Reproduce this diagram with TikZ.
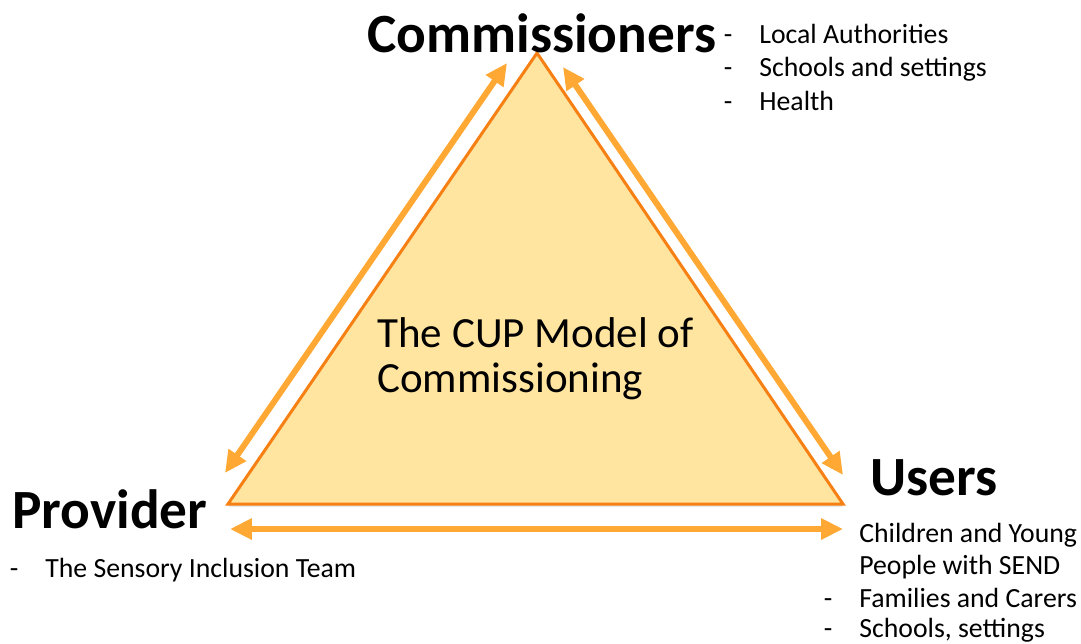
\documentclass[tikz,border=0pt]{standalone}
\usepackage{fontspec}
\setmainfont{Carlito}
\usetikzlibrary{arrows.meta,shadows}
\definecolor{cupfill}{RGB}{255,229,160}
\definecolor{cupedge}{RGB}{247,128,20}
\definecolor{cuparrow}{RGB}{255,168,52}
\tikzset{
  role/.style={inner sep=0pt, anchor=base west, font=\fontsize{31.5}{38}\selectfont\bfseries},
  model/.style={inner sep=0pt, anchor=base west, align=left, font=\fontsize{24.5}{25.5}\selectfont},
  item/.style={inner sep=0pt, anchor=base west, font=\fontsize{15.8}{19}\selectfont},
  bullet/.style={inner sep=0pt, anchor=base, font=\fontsize{15.8}{19}\selectfont},
  link/.style={draw=cuparrow, line width=3.4pt, <->},
  >={Triangle[length=12.5pt,width=11.5pt]}
}
\begin{document}
\begin{tikzpicture}[x=0.02cm,y=-0.02cm]
			\useasboundingbox (0,0) rectangle (1081,643);
			% triangle
			\coordinate (top) at (537,53);
			\coordinate (left) at (228,504);
			\coordinate (right) at (843,504);
			\filldraw[fill=cupfill, draw=cupedge, line width=1.7pt,
				drop shadow={opacity=0.25, shadow xshift=0pt, shadow yshift=-1.5pt}]
				(top) -- (left) -- (right) -- cycle;
			\node[model] (cup) at (377,392) {The CUP Model of\\Commissioning};

			% arrow ends
			\coordinate (la) at (507,63);
			\coordinate (lb) at (225,473);
			\coordinate (ra) at (563,67);
			\coordinate (rb) at (843,475);
			\coordinate (ba) at (230,529);
			\coordinate (bb) at (843,529);
			\draw
			(la) edge[link] (lb)
			(ra) edge[link] (rb)
			(ba) edge[link] (bb)
			;

			% corners
			\node[role] (comm) at (367,52) {Commissioners};
			\node[role] (prov) at (12,528) {Provider};
			\node[role] (users) at (870,495) {Users};

			% commissioners
			\node[bullet] (c1d) at (728,43) {-};
			\node[item] (c1) at (759,43) {Local Authorities};
			\node[bullet] (c2d) at (728,76) {-};
			\node[item] (c2) at (759,76) {Schools and settings};
			\node[bullet] (c3d) at (728,110) {-};
			\node[item] (c3) at (759,110) {Health};

			% provider
			\node[bullet] (p1d) at (14,577) {-};
			\node[item] (p1) at (45,577) {The Sensory Inclusion Team};

			% users
			\node[item] (u1) at (859,542) {Children and Young};
			\node[item] (u1b) at (859,574) {People with SEND};
			\node[bullet] (u2d) at (828,607) {-};
			\node[item] (u2) at (859,607) {Families and Carers};
			\node[bullet] (u3d) at (828,637) {-};
			\node[item] (u3) at (859,637) {Schools, settings};
		\end{tikzpicture}
\end{document}
